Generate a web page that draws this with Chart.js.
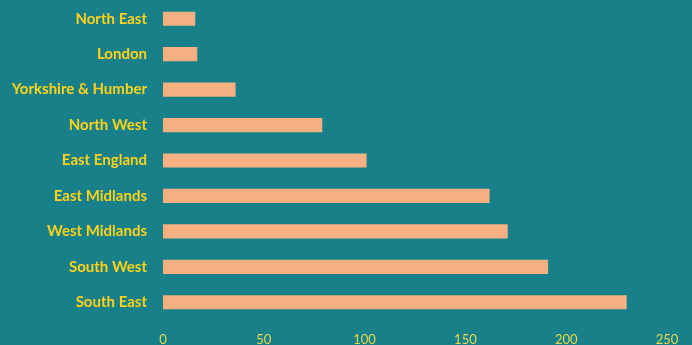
<!DOCTYPE html>
<html>
<head>
<meta charset="utf-8">
<script src="https://cdn.jsdelivr.net/npm/chart.js@4"></script>
<style>
  html, body { margin: 0; padding: 0; background: #178088; }
  #wrap { width: 692px; height: 345px; }
</style>
</head>
<body>
<div id="wrap"><canvas id="chart"></canvas></div>
<script>
const regions = ['North East', 'London', 'Yorkshire & Humber', 'North West', 'East England',
                 'East Midlands', 'West Midlands', 'South West', 'South East'];
const counts = [16, 17, 36, 79, 101, 162, 171, 191, 230];
const xTicks = [0, 50, 100, 150, 200, 250];

const ctx = document.getElementById('chart').getContext('2d');

new Chart(ctx, {
    type: 'bar',
    data: {
        labels: regions,
        datasets: [{
            data: counts,
            backgroundColor: '#f7b081',
            borderWidth: 0,
            categoryPercentage: 0.8,
            barPercentage: 0.5
        }]
    },
    options: {
        indexAxis: 'y',
        responsive: true,
        maintainAspectRatio: false,
        animation: false,
        layout: { padding: { top: 1, right: 25, bottom: 0, left: 0 } },
        plugins: {
            legend: { display: false },
            tooltip: { enabled: false }
        },
        scales: {
            x: {
                min: 0,
                max: 250,
                afterBuildTicks: axis => { axis.ticks = xTicks.map(v => ({ value: v })); },
                afterFit: axis => { axis.height = 25; },
                grid: { display: false, drawTicks: false },
                border: { display: false },
                ticks: {
                    color: '#e8d84a',
                    padding: 12,
                    font: { family: 'Lato', size: 13 }
                }
            },
            y: {
                afterFit: axis => { axis.width = 163; axis.paddingTop = 0; axis.paddingBottom = 0; },
                grid: { display: false, drawTicks: false },
                border: { display: false },
                ticks: {
                    color: '#ffd21a',
                    padding: 16,
                    font: { family: 'Lato', size: 15, weight: 'bold' }
                }
            }
        }
    }
});
</script>
</body>
</html>
